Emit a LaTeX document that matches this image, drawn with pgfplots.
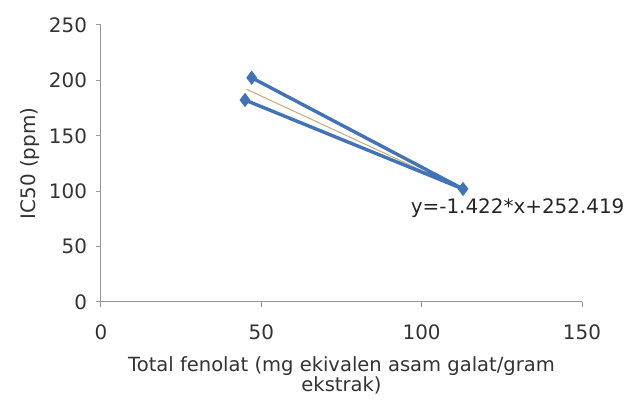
\documentclass[border=0pt]{standalone}
\usepackage{pgfplots}
\pgfplotsset{compat=1.18}
\usepackage{fontspec}
\setmainfont{DejaVu Sans}
\definecolor{serblue}{RGB}{66,114,184}
\definecolor{trendc}{RGB}{200,170,120}
\definecolor{axgray}{RGB}{150,150,150}
\begin{document}
\begin{tikzpicture}
\begin{axis}[
  name=ax,
  scale only axis,
  width=240.5bp, height=138.5bp,
  xmin=0, xmax=150, ymin=0, ymax=250,
  xtick={0,50,100,150}, ytick={0,50,100,150,200,250},
  axis lines=left,
  axis line style={axgray, line width=0.5pt, -},
  tick style={axgray, line width=0.5pt},
  tick align=outside,
  major tick length=2.5bp,
  /pgf/number format/assume math mode=true,
  ticklabel style={font=\fontsize{10}{12}\selectfont, text=black!80},
  xticklabel style={yshift=-5.5bp},
  yticklabel style={xshift=-1bp},
  xlabel={Total fenolat (mg ekivalen asam galat/gram\\ekstrak)},
  xlabel style={font=\fontsize{9.8}{10.2}\selectfont, align=center, text=black!80, yshift=-1.5bp},
  ylabel={IC50 (ppm)},
  ylabel style={font=\fontsize{10}{12}\selectfont, text=black!80, yshift=-2bp},
  clip=false,
]
\addplot[trendc, line width=0.5pt] coordinates {(45.4,192.0) (112.9,101.4)};
\addplot[serblue, line width=1.7pt, mark=diamond*, mark size=2.2bp, mark options={solid}]
  coordinates {(47.0,202.4) (112.9,102.0) (44.9,182.3)};
\node[anchor=west, font=\fontsize{10}{12}\selectfont, text=black!85, inner sep=0pt] at (axis cs:96.5,84.5) {y=-1.422*x+252.419};
\end{axis}
\path ([shift={(-50.5bp,-49.5bp)}]ax.south west) rectangle ([shift={(263bp,151bp)}]ax.south west);
\end{tikzpicture}
\end{document}
